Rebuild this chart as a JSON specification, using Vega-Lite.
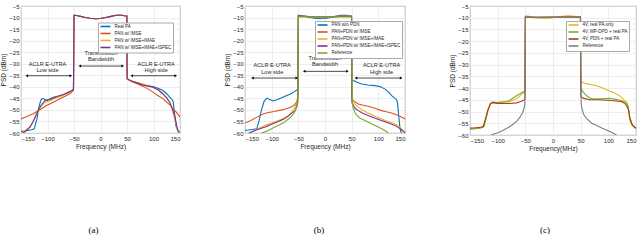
{
"$schema":"https://vega.github.io/schema/vega-lite/v6.json",
"padding":{"left":0,"top":2,"right":0,"bottom":0},
"bounds":"flush",
"spacing":65,
"resolve":{"scale":{"color":"independent","shape":"independent"}},
"config":{
 "view":{"stroke":"#9a9a9a","strokeWidth":0.8},
 "axis":{"labelFont":"Liberation Sans","titleFont":"Liberation Sans","labelFontSize":6,"titleFontSize":6.5,"titleFontWeight":"normal","labelColor":"#262626","titleColor":"#262626","gridColor":"#e3e3e3","gridWidth":0.6,"domain":false,"ticks":false,"labelPadding":2,"titlePadding":2},
 "legend":{"orient":"none","labelFont":"Liberation Sans","labelFontSize":4.5,"labelColor":"#262626","symbolType":"M-3,0H3","symbolSize":11,"symbolStrokeWidth":1.6,"symbolOffset":3.5,"labelOffset":6.5,"rowPadding":0,"padding":1.5,"fillColor":"white","strokeColor":"#aaaaaa","labelLimit":200},
 "title":{"font":"Liberation Serif","fontSize":9,"fontWeight":"normal","color":"#000000"},
 "text":{"font":"Liberation Sans","fontSize":5.6,"color":"#262626"}
},
"datasets":{
"a":[
{"s":"Real PA","f":-150,"v":-59.4},{"s":"Real PA","f":-140,"v":-59},{"s":"Real PA","f":-130,"v":-58.6},{"s":"Real PA","f":-125,"v":-58.2},{"s":"Real PA","f":-120,"v":-54},{"s":"Real PA","f":-117,"v":-49.6},{"s":"Real PA","f":-113,"v":-46},{"s":"Real PA","f":-110,"v":-45},{"s":"Real PA","f":-106,"v":-45.3},{"s":"Real PA","f":-102,"v":-46},{"s":"Real PA","f":-96,"v":-45.6},{"s":"Real PA","f":-89,"v":-45},{"s":"Real PA","f":-80,"v":-44.3},{"s":"Real PA","f":-70,"v":-43.5},{"s":"Real PA","f":-60,"v":-42.4},{"s":"Real PA","f":-51,"v":-41.2},
{"s":"Real PA","f":-50,"v":-9.0},{"s":"Real PA","f":-45,"v":-9.1},{"s":"Real PA","f":-40,"v":-9.4},{"s":"Real PA","f":-30,"v":-9.9},{"s":"Real PA","f":-20,"v":-10.3},{"s":"Real PA","f":-10,"v":-10.5},{"s":"Real PA","f":0,"v":-10.4},{"s":"Real PA","f":10,"v":-10},{"s":"Real PA","f":20,"v":-9.5},{"s":"Real PA","f":30,"v":-9},{"s":"Real PA","f":40,"v":-9},{"s":"Real PA","f":45,"v":-9.2},{"s":"Real PA","f":49.7,"v":-9.3},
{"s":"Real PA","f":50.3,"v":-36.5},{"s":"Real PA","f":55,"v":-37.2},{"s":"Real PA","f":61.5,"v":-37.7},{"s":"Real PA","f":70,"v":-38.4},{"s":"Real PA","f":80,"v":-39.2},{"s":"Real PA","f":90,"v":-39.6},{"s":"Real PA","f":99,"v":-39.9},{"s":"Real PA","f":110,"v":-40.7},{"s":"Real PA","f":118,"v":-41.6},{"s":"Real PA","f":125,"v":-43},{"s":"Real PA","f":130.6,"v":-44.5},{"s":"Real PA","f":135,"v":-45.5},{"s":"Real PA","f":137,"v":-46.2},{"s":"Real PA","f":139,"v":-50},{"s":"Real PA","f":142,"v":-56.8},{"s":"Real PA","f":146,"v":-59},{"s":"Real PA","f":150,"v":-59.7},
{"s":"PAN w/ IMSE","f":-150,"v":-53.9},{"s":"PAN w/ IMSE","f":-140,"v":-53},{"s":"PAN w/ IMSE","f":-127,"v":-51.7},{"s":"PAN w/ IMSE","f":-115,"v":-50},{"s":"PAN w/ IMSE","f":-102,"v":-48.1},{"s":"PAN w/ IMSE","f":-90,"v":-46.8},{"s":"PAN w/ IMSE","f":-76.5,"v":-45.2},{"s":"PAN w/ IMSE","f":-65,"v":-43.9},{"s":"PAN w/ IMSE","f":-58,"v":-43},{"s":"PAN w/ IMSE","f":-51,"v":-41.6},
{"s":"PAN w/ IMSE","f":-50,"v":-9.0},{"s":"PAN w/ IMSE","f":-45,"v":-9.1},{"s":"PAN w/ IMSE","f":-40,"v":-9.4},{"s":"PAN w/ IMSE","f":-30,"v":-9.9},{"s":"PAN w/ IMSE","f":-20,"v":-10.3},{"s":"PAN w/ IMSE","f":-10,"v":-10.5},{"s":"PAN w/ IMSE","f":0,"v":-10.4},{"s":"PAN w/ IMSE","f":10,"v":-10},{"s":"PAN w/ IMSE","f":20,"v":-9.5},{"s":"PAN w/ IMSE","f":30,"v":-9},{"s":"PAN w/ IMSE","f":40,"v":-9},{"s":"PAN w/ IMSE","f":45,"v":-9.2},{"s":"PAN w/ IMSE","f":49.7,"v":-9.3},
{"s":"PAN w/ IMSE","f":50.3,"v":-36.5},{"s":"PAN w/ IMSE","f":55,"v":-37.3},{"s":"PAN w/ IMSE","f":61.5,"v":-38},{"s":"PAN w/ IMSE","f":70,"v":-38.8},{"s":"PAN w/ IMSE","f":80,"v":-39.7},{"s":"PAN w/ IMSE","f":90,"v":-41},{"s":"PAN w/ IMSE","f":99,"v":-42.3},{"s":"PAN w/ IMSE","f":108,"v":-43.8},{"s":"PAN w/ IMSE","f":118,"v":-45.2},{"s":"PAN w/ IMSE","f":125,"v":-46.6},{"s":"PAN w/ IMSE","f":130.6,"v":-47.8},{"s":"PAN w/ IMSE","f":137,"v":-49.5},{"s":"PAN w/ IMSE","f":143,"v":-51},{"s":"PAN w/ IMSE","f":150,"v":-53.2},
{"s":"PAN w/ IMSE+IMAE","f":-148,"v":-60},{"s":"PAN w/ IMSE+IMAE","f":-143,"v":-59},{"s":"PAN w/ IMSE+IMAE","f":-133,"v":-57.3},{"s":"PAN w/ IMSE+IMAE","f":-125,"v":-54},{"s":"PAN w/ IMSE+IMAE","f":-120,"v":-51.5},{"s":"PAN w/ IMSE+IMAE","f":-113,"v":-48.5},{"s":"PAN w/ IMSE+IMAE","f":-105,"v":-46.7},{"s":"PAN w/ IMSE+IMAE","f":-95,"v":-46},{"s":"PAN w/ IMSE+IMAE","f":-85,"v":-45},{"s":"PAN w/ IMSE+IMAE","f":-70,"v":-43.6},{"s":"PAN w/ IMSE+IMAE","f":-60,"v":-42.5},{"s":"PAN w/ IMSE+IMAE","f":-51,"v":-41.4},
{"s":"PAN w/ IMSE+IMAE","f":-50,"v":-9.0},{"s":"PAN w/ IMSE+IMAE","f":-45,"v":-9.1},{"s":"PAN w/ IMSE+IMAE","f":-40,"v":-9.4},{"s":"PAN w/ IMSE+IMAE","f":-30,"v":-9.9},{"s":"PAN w/ IMSE+IMAE","f":-20,"v":-10.3},{"s":"PAN w/ IMSE+IMAE","f":-10,"v":-10.5},{"s":"PAN w/ IMSE+IMAE","f":0,"v":-10.4},{"s":"PAN w/ IMSE+IMAE","f":10,"v":-10},{"s":"PAN w/ IMSE+IMAE","f":20,"v":-9.5},{"s":"PAN w/ IMSE+IMAE","f":30,"v":-9},{"s":"PAN w/ IMSE+IMAE","f":40,"v":-9},{"s":"PAN w/ IMSE+IMAE","f":45,"v":-9.2},{"s":"PAN w/ IMSE+IMAE","f":49.7,"v":-9.3},
{"s":"PAN w/ IMSE+IMAE","f":50.3,"v":-36.5},{"s":"PAN w/ IMSE+IMAE","f":56,"v":-37.3},{"s":"PAN w/ IMSE+IMAE","f":62,"v":-37.8},{"s":"PAN w/ IMSE+IMAE","f":70,"v":-38.2},{"s":"PAN w/ IMSE+IMAE","f":80,"v":-38.8},{"s":"PAN w/ IMSE+IMAE","f":90,"v":-39.5},{"s":"PAN w/ IMSE+IMAE","f":100,"v":-40.3},{"s":"PAN w/ IMSE+IMAE","f":110,"v":-41.5},{"s":"PAN w/ IMSE+IMAE","f":118,"v":-43},{"s":"PAN w/ IMSE+IMAE","f":125,"v":-44.8},{"s":"PAN w/ IMSE+IMAE","f":131,"v":-47},{"s":"PAN w/ IMSE+IMAE","f":136,"v":-50.5},{"s":"PAN w/ IMSE+IMAE","f":140,"v":-54},{"s":"PAN w/ IMSE+IMAE","f":145,"v":-58.5},{"s":"PAN w/ IMSE+IMAE","f":148,"v":-60},
{"s":"PAN w/ IMSE+IMAE+ISPEC","f":-146,"v":-60},{"s":"PAN w/ IMSE+IMAE+ISPEC","f":-140,"v":-59},{"s":"PAN w/ IMSE+IMAE+ISPEC","f":-133,"v":-57.5},{"s":"PAN w/ IMSE+IMAE+ISPEC","f":-127,"v":-55},{"s":"PAN w/ IMSE+IMAE+ISPEC","f":-120.5,"v":-51.7},{"s":"PAN w/ IMSE+IMAE+ISPEC","f":-113,"v":-48.3},{"s":"PAN w/ IMSE+IMAE+ISPEC","f":-105,"v":-46},{"s":"PAN w/ IMSE+IMAE+ISPEC","f":-97,"v":-45.4},{"s":"PAN w/ IMSE+IMAE+ISPEC","f":-89,"v":-44.5},{"s":"PAN w/ IMSE+IMAE+ISPEC","f":-80,"v":-44},{"s":"PAN w/ IMSE+IMAE+ISPEC","f":-70,"v":-43.3},{"s":"PAN w/ IMSE+IMAE+ISPEC","f":-60,"v":-42.3},{"s":"PAN w/ IMSE+IMAE+ISPEC","f":-51,"v":-41.3},
{"s":"PAN w/ IMSE+IMAE+ISPEC","f":-50,"v":-9.0},{"s":"PAN w/ IMSE+IMAE+ISPEC","f":-45,"v":-9.1},{"s":"PAN w/ IMSE+IMAE+ISPEC","f":-40,"v":-9.4},{"s":"PAN w/ IMSE+IMAE+ISPEC","f":-30,"v":-9.9},{"s":"PAN w/ IMSE+IMAE+ISPEC","f":-20,"v":-10.3},{"s":"PAN w/ IMSE+IMAE+ISPEC","f":-10,"v":-10.5},{"s":"PAN w/ IMSE+IMAE+ISPEC","f":0,"v":-10.4},{"s":"PAN w/ IMSE+IMAE+ISPEC","f":10,"v":-10},{"s":"PAN w/ IMSE+IMAE+ISPEC","f":20,"v":-9.5},{"s":"PAN w/ IMSE+IMAE+ISPEC","f":30,"v":-9},{"s":"PAN w/ IMSE+IMAE+ISPEC","f":40,"v":-9},{"s":"PAN w/ IMSE+IMAE+ISPEC","f":45,"v":-9.2},{"s":"PAN w/ IMSE+IMAE+ISPEC","f":49.7,"v":-9.3},
{"s":"PAN w/ IMSE+IMAE+ISPEC","f":50.3,"v":-36.5},{"s":"PAN w/ IMSE+IMAE+ISPEC","f":56,"v":-37.3},{"s":"PAN w/ IMSE+IMAE+ISPEC","f":61.5,"v":-37.7},{"s":"PAN w/ IMSE+IMAE+ISPEC","f":70,"v":-38.3},{"s":"PAN w/ IMSE+IMAE+ISPEC","f":80,"v":-39.2},{"s":"PAN w/ IMSE+IMAE+ISPEC","f":90,"v":-39.7},{"s":"PAN w/ IMSE+IMAE+ISPEC","f":99,"v":-40.2},{"s":"PAN w/ IMSE+IMAE+ISPEC","f":110,"v":-41.5},{"s":"PAN w/ IMSE+IMAE+ISPEC","f":118,"v":-43.1},{"s":"PAN w/ IMSE+IMAE+ISPEC","f":125,"v":-44.8},{"s":"PAN w/ IMSE+IMAE+ISPEC","f":130.6,"v":-46.7},{"s":"PAN w/ IMSE+IMAE+ISPEC","f":135,"v":-49},{"s":"PAN w/ IMSE+IMAE+ISPEC","f":140,"v":-52.5},{"s":"PAN w/ IMSE+IMAE+ISPEC","f":144,"v":-57},{"s":"PAN w/ IMSE+IMAE+ISPEC","f":147,"v":-59.7}
],
"b":[
{"s":"PAN w/o PDN","f":-150,"v":-58.9},{"s":"PAN w/o PDN","f":-140,"v":-58.6},{"s":"PAN w/o PDN","f":-128,"v":-58.2},{"s":"PAN w/o PDN","f":-124,"v":-55},{"s":"PAN w/o PDN","f":-119,"v":-50},{"s":"PAN w/o PDN","f":-114,"v":-46.2},{"s":"PAN w/o PDN","f":-109,"v":-44.9},{"s":"PAN w/o PDN","f":-104,"v":-45.5},{"s":"PAN w/o PDN","f":-97,"v":-46.1},{"s":"PAN w/o PDN","f":-89,"v":-45.5},{"s":"PAN w/o PDN","f":-81,"v":-44.7},{"s":"PAN w/o PDN","f":-74,"v":-44},{"s":"PAN w/o PDN","f":-66,"v":-43.2},{"s":"PAN w/o PDN","f":-58,"v":-42.2},{"s":"PAN w/o PDN","f":-51,"v":-41},
{"s":"PAN w/o PDN","f":-50,"v":-9.0},{"s":"PAN w/o PDN","f":-45,"v":-9.1},{"s":"PAN w/o PDN","f":-40,"v":-9.4},{"s":"PAN w/o PDN","f":-30,"v":-9.9},{"s":"PAN w/o PDN","f":-20,"v":-10.3},{"s":"PAN w/o PDN","f":-10,"v":-10.5},{"s":"PAN w/o PDN","f":0,"v":-10.4},{"s":"PAN w/o PDN","f":10,"v":-10},{"s":"PAN w/o PDN","f":20,"v":-9.5},{"s":"PAN w/o PDN","f":30,"v":-9},{"s":"PAN w/o PDN","f":40,"v":-9},{"s":"PAN w/o PDN","f":45,"v":-9.2},{"s":"PAN w/o PDN","f":49.7,"v":-9.3},
{"s":"PAN w/o PDN","f":50.3,"v":-36.8},{"s":"PAN w/o PDN","f":53,"v":-37.3},{"s":"PAN w/o PDN","f":60,"v":-38},{"s":"PAN w/o PDN","f":69,"v":-38.8},{"s":"PAN w/o PDN","f":80,"v":-39.2},{"s":"PAN w/o PDN","f":94,"v":-39.5},{"s":"PAN w/o PDN","f":104,"v":-40},{"s":"PAN w/o PDN","f":112.5,"v":-41},{"s":"PAN w/o PDN","f":119,"v":-42.2},{"s":"PAN w/o PDN","f":125,"v":-43.8},{"s":"PAN w/o PDN","f":130,"v":-44.8},{"s":"PAN w/o PDN","f":134,"v":-45.5},{"s":"PAN w/o PDN","f":136,"v":-47},{"s":"PAN w/o PDN","f":138,"v":-52},{"s":"PAN w/o PDN","f":140.6,"v":-58},{"s":"PAN w/o PDN","f":143,"v":-60},
{"s":"PAN+PDN w/ IMSE","f":-150,"v":-55.7},{"s":"PAN+PDN w/ IMSE","f":-140,"v":-54.7},{"s":"PAN+PDN w/ IMSE","f":-125,"v":-52.8},{"s":"PAN+PDN w/ IMSE","f":-115,"v":-51.7},{"s":"PAN+PDN w/ IMSE","f":-106,"v":-51.1},{"s":"PAN+PDN w/ IMSE","f":-95,"v":-50.7},{"s":"PAN+PDN w/ IMSE","f":-81,"v":-50},{"s":"PAN+PDN w/ IMSE","f":-70,"v":-49.3},{"s":"PAN+PDN w/ IMSE","f":-62.5,"v":-48.6},{"s":"PAN+PDN w/ IMSE","f":-57,"v":-47.8},{"s":"PAN+PDN w/ IMSE","f":-53,"v":-46.5},{"s":"PAN+PDN w/ IMSE","f":-51,"v":-44.5},
{"s":"PAN+PDN w/ IMSE","f":-50,"v":-9.3},{"s":"PAN+PDN w/ IMSE","f":-30,"v":-9.6},{"s":"PAN+PDN w/ IMSE","f":0,"v":-9.7},{"s":"PAN+PDN w/ IMSE","f":30,"v":-9.5},{"s":"PAN+PDN w/ IMSE","f":49.7,"v":-9.5},
{"s":"PAN+PDN w/ IMSE","f":50.5,"v":-45.2},{"s":"PAN+PDN w/ IMSE","f":55,"v":-46.3},{"s":"PAN+PDN w/ IMSE","f":62.5,"v":-47.4},{"s":"PAN+PDN w/ IMSE","f":70,"v":-47.9},{"s":"PAN+PDN w/ IMSE","f":81,"v":-48.4},{"s":"PAN+PDN w/ IMSE","f":95,"v":-49.4},{"s":"PAN+PDN w/ IMSE","f":106,"v":-50.3},{"s":"PAN+PDN w/ IMSE","f":115,"v":-50.8},{"s":"PAN+PDN w/ IMSE","f":125,"v":-51.3},{"s":"PAN+PDN w/ IMSE","f":137.5,"v":-52.4},{"s":"PAN+PDN w/ IMSE","f":145,"v":-53.3},{"s":"PAN+PDN w/ IMSE","f":150,"v":-53.9},
{"s":"PAN+PDN w/ IMSE+IMAE","f":-140,"v":-60},{"s":"PAN+PDN w/ IMSE+IMAE","f":-137,"v":-59.6},{"s":"PAN+PDN w/ IMSE+IMAE","f":-125,"v":-58},{"s":"PAN+PDN w/ IMSE+IMAE","f":-112,"v":-56.7},{"s":"PAN+PDN w/ IMSE+IMAE","f":-100,"v":-55.7},{"s":"PAN+PDN w/ IMSE+IMAE","f":-87.5,"v":-54.6},{"s":"PAN+PDN w/ IMSE+IMAE","f":-78,"v":-53.7},{"s":"PAN+PDN w/ IMSE+IMAE","f":-69,"v":-52.5},{"s":"PAN+PDN w/ IMSE+IMAE","f":-62,"v":-50.8},{"s":"PAN+PDN w/ IMSE+IMAE","f":-56,"v":-48.8},{"s":"PAN+PDN w/ IMSE+IMAE","f":-52,"v":-46.5},{"s":"PAN+PDN w/ IMSE+IMAE","f":-51,"v":-45},
{"s":"PAN+PDN w/ IMSE+IMAE","f":-50,"v":-9.3},{"s":"PAN+PDN w/ IMSE+IMAE","f":-30,"v":-9.6},{"s":"PAN+PDN w/ IMSE+IMAE","f":0,"v":-9.7},{"s":"PAN+PDN w/ IMSE+IMAE","f":30,"v":-9.5},{"s":"PAN+PDN w/ IMSE+IMAE","f":49.7,"v":-9.5},
{"s":"PAN+PDN w/ IMSE+IMAE","f":50.5,"v":-45.2},{"s":"PAN+PDN w/ IMSE+IMAE","f":54,"v":-46.8},{"s":"PAN+PDN w/ IMSE+IMAE","f":58,"v":-47.9},{"s":"PAN+PDN w/ IMSE+IMAE","f":62.5,"v":-48.8},{"s":"PAN+PDN w/ IMSE+IMAE","f":70,"v":-50},{"s":"PAN+PDN w/ IMSE+IMAE","f":81,"v":-51.3},{"s":"PAN+PDN w/ IMSE+IMAE","f":93,"v":-52.6},{"s":"PAN+PDN w/ IMSE+IMAE","f":106,"v":-53.9},{"s":"PAN+PDN w/ IMSE+IMAE","f":118,"v":-55},{"s":"PAN+PDN w/ IMSE+IMAE","f":131,"v":-56},{"s":"PAN+PDN w/ IMSE+IMAE","f":140,"v":-57.5},{"s":"PAN+PDN w/ IMSE+IMAE","f":150,"v":-59.6},
{"s":"PAN+PDN w/ IMSE+IMAE+ISPEC","f":-143,"v":-60},{"s":"PAN+PDN w/ IMSE+IMAE+ISPEC","f":-137,"v":-59.5},{"s":"PAN+PDN w/ IMSE+IMAE+ISPEC","f":-125,"v":-58.4},{"s":"PAN+PDN w/ IMSE+IMAE+ISPEC","f":-112,"v":-57.4},{"s":"PAN+PDN w/ IMSE+IMAE+ISPEC","f":-100,"v":-56.2},{"s":"PAN+PDN w/ IMSE+IMAE+ISPEC","f":-87.5,"v":-55},{"s":"PAN+PDN w/ IMSE+IMAE+ISPEC","f":-78,"v":-54},{"s":"PAN+PDN w/ IMSE+IMAE+ISPEC","f":-69,"v":-52.7},{"s":"PAN+PDN w/ IMSE+IMAE+ISPEC","f":-62,"v":-51.3},{"s":"PAN+PDN w/ IMSE+IMAE+ISPEC","f":-56,"v":-50.3},{"s":"PAN+PDN w/ IMSE+IMAE+ISPEC","f":-53,"v":-48.5},{"s":"PAN+PDN w/ IMSE+IMAE+ISPEC","f":-51,"v":-46},
{"s":"PAN+PDN w/ IMSE+IMAE+ISPEC","f":-50,"v":-9.3},{"s":"PAN+PDN w/ IMSE+IMAE+ISPEC","f":-30,"v":-9.6},{"s":"PAN+PDN w/ IMSE+IMAE+ISPEC","f":0,"v":-9.7},{"s":"PAN+PDN w/ IMSE+IMAE+ISPEC","f":30,"v":-9.5},{"s":"PAN+PDN w/ IMSE+IMAE+ISPEC","f":49.7,"v":-9.5},
{"s":"PAN+PDN w/ IMSE+IMAE+ISPEC","f":50.5,"v":-46.7},{"s":"PAN+PDN w/ IMSE+IMAE+ISPEC","f":54,"v":-48.5},{"s":"PAN+PDN w/ IMSE+IMAE+ISPEC","f":58,"v":-49.6},{"s":"PAN+PDN w/ IMSE+IMAE+ISPEC","f":62.5,"v":-50.3},{"s":"PAN+PDN w/ IMSE+IMAE+ISPEC","f":70,"v":-51.3},{"s":"PAN+PDN w/ IMSE+IMAE+ISPEC","f":81,"v":-52.4},{"s":"PAN+PDN w/ IMSE+IMAE+ISPEC","f":93,"v":-53.5},{"s":"PAN+PDN w/ IMSE+IMAE+ISPEC","f":106,"v":-54.6},{"s":"PAN+PDN w/ IMSE+IMAE+ISPEC","f":118,"v":-55.6},{"s":"PAN+PDN w/ IMSE+IMAE+ISPEC","f":131,"v":-56.7},{"s":"PAN+PDN w/ IMSE+IMAE+ISPEC","f":140,"v":-58},{"s":"PAN+PDN w/ IMSE+IMAE+ISPEC","f":145,"v":-59},{"s":"PAN+PDN w/ IMSE+IMAE+ISPEC","f":150,"v":-60},
{"s":"Reference","f":-119,"v":-60},{"s":"Reference","f":-110,"v":-59.3},{"s":"Reference","f":-100,"v":-58.2},{"s":"Reference","f":-94,"v":-57.4},{"s":"Reference","f":-85,"v":-56.4},{"s":"Reference","f":-78,"v":-55.6},{"s":"Reference","f":-72,"v":-54.6},{"s":"Reference","f":-65,"v":-53.3},{"s":"Reference","f":-59,"v":-51.7},{"s":"Reference","f":-55,"v":-50},{"s":"Reference","f":-52,"v":-48},{"s":"Reference","f":-51,"v":-46.7},{"s":"Reference","f":-50.5,"v":-30},{"s":"Reference","f":-50,"v":-10},{"s":"Reference","f":-49.5,"v":-9.7},{"s":"Reference","f":0,"v":-9.7},{"s":"Reference","f":49.5,"v":-9.7},{"s":"Reference","f":50,"v":-10},{"s":"Reference","f":50.5,"v":-30},{"s":"Reference","f":51,"v":-46.7},{"s":"Reference","f":53,"v":-49.3},{"s":"Reference","f":56,"v":-51},{"s":"Reference","f":59,"v":-52.2},{"s":"Reference","f":65,"v":-53.5},{"s":"Reference","f":75,"v":-54.6},{"s":"Reference","f":87,"v":-56},{"s":"Reference","f":100,"v":-57.4},{"s":"Reference","f":110,"v":-58.6},{"s":"Reference","f":119,"v":-60}
],
"c":[
{"s":"4V, real PA only","f":-150,"v":-57.2},{"s":"4V, real PA only","f":-140,"v":-57},{"s":"4V, real PA only","f":-130,"v":-56.6},{"s":"4V, real PA only","f":-125,"v":-56.2},{"s":"4V, real PA only","f":-121,"v":-53},{"s":"4V, real PA only","f":-117,"v":-49},{"s":"4V, real PA only","f":-112,"v":-46.5},{"s":"4V, real PA only","f":-109,"v":-46},{"s":"4V, real PA only","f":-104,"v":-46.3},{"s":"4V, real PA only","f":-100,"v":-46.2},{"s":"4V, real PA only","f":-92,"v":-46},{"s":"4V, real PA only","f":-85,"v":-45.8},{"s":"4V, real PA only","f":-80,"v":-46},{"s":"4V, real PA only","f":-73,"v":-45.2},{"s":"4V, real PA only","f":-66,"v":-44.4},{"s":"4V, real PA only","f":-58,"v":-43},{"s":"4V, real PA only","f":-51,"v":-41.6},
{"s":"4V, real PA only","f":-50,"v":-9.3},{"s":"4V, real PA only","f":-45,"v":-9.3},{"s":"4V, real PA only","f":-35,"v":-10},{"s":"4V, real PA only","f":-20,"v":-10.2},{"s":"4V, real PA only","f":-5,"v":-10.2},{"s":"4V, real PA only","f":5,"v":-9.8},{"s":"4V, real PA only","f":20,"v":-9.3},{"s":"4V, real PA only","f":30,"v":-9.2},{"s":"4V, real PA only","f":40,"v":-9.4},{"s":"4V, real PA only","f":49.5,"v":-9.5},
{"s":"4V, real PA only","f":50.3,"v":-37.3},{"s":"4V, real PA only","f":55,"v":-37.7},{"s":"4V, real PA only","f":61,"v":-38.2},{"s":"4V, real PA only","f":70,"v":-38.6},{"s":"4V, real PA only","f":79,"v":-39},{"s":"4V, real PA only","f":90,"v":-40},{"s":"4V, real PA only","f":100,"v":-41},{"s":"4V, real PA only","f":110,"v":-42},{"s":"4V, real PA only","f":121,"v":-43.3},{"s":"4V, real PA only","f":128,"v":-45},{"s":"4V, real PA only","f":133,"v":-46},{"s":"4V, real PA only","f":136,"v":-48},{"s":"4V, real PA only","f":139,"v":-54},{"s":"4V, real PA only","f":143,"v":-56},{"s":"4V, real PA only","f":150,"v":-57},
{"s":"4V, MP-DPD + real PA","f":-150,"v":-57.5},{"s":"4V, MP-DPD + real PA","f":-140,"v":-57.3},{"s":"4V, MP-DPD + real PA","f":-130,"v":-57},{"s":"4V, MP-DPD + real PA","f":-125,"v":-56.5},{"s":"4V, MP-DPD + real PA","f":-121,"v":-53},{"s":"4V, MP-DPD + real PA","f":-117,"v":-49},{"s":"4V, MP-DPD + real PA","f":-112,"v":-46.5},{"s":"4V, MP-DPD + real PA","f":-109,"v":-46},{"s":"4V, MP-DPD + real PA","f":-100,"v":-46.2},{"s":"4V, MP-DPD + real PA","f":-90,"v":-46},{"s":"4V, MP-DPD + real PA","f":-80,"v":-45.4},{"s":"4V, MP-DPD + real PA","f":-73,"v":-44.3},{"s":"4V, MP-DPD + real PA","f":-66,"v":-43.3},{"s":"4V, MP-DPD + real PA","f":-58,"v":-42.2},{"s":"4V, MP-DPD + real PA","f":-51,"v":-41.2},
{"s":"4V, MP-DPD + real PA","f":-50,"v":-9.6},{"s":"4V, MP-DPD + real PA","f":-25,"v":-9.8},{"s":"4V, MP-DPD + real PA","f":0,"v":-9.7},{"s":"4V, MP-DPD + real PA","f":25,"v":-9.6},{"s":"4V, MP-DPD + real PA","f":49.5,"v":-9.7},
{"s":"4V, MP-DPD + real PA","f":50.3,"v":-40},{"s":"4V, MP-DPD + real PA","f":55,"v":-41.8},{"s":"4V, MP-DPD + real PA","f":61,"v":-43.3},{"s":"4V, MP-DPD + real PA","f":67,"v":-44.2},{"s":"4V, MP-DPD + real PA","f":73,"v":-44.7},{"s":"4V, MP-DPD + real PA","f":85,"v":-44.6},{"s":"4V, MP-DPD + real PA","f":103,"v":-44.4},{"s":"4V, MP-DPD + real PA","f":115,"v":-44.9},{"s":"4V, MP-DPD + real PA","f":124,"v":-45.4},{"s":"4V, MP-DPD + real PA","f":130,"v":-46},{"s":"4V, MP-DPD + real PA","f":133,"v":-46.4},{"s":"4V, MP-DPD + real PA","f":136,"v":-48},{"s":"4V, MP-DPD + real PA","f":139,"v":-52.5},{"s":"4V, MP-DPD + real PA","f":143,"v":-55.5},{"s":"4V, MP-DPD + real PA","f":148,"v":-57},{"s":"4V, MP-DPD + real PA","f":150,"v":-57.2},
{"s":"4V, PDN + real PA","f":-150,"v":-57},{"s":"4V, PDN + real PA","f":-140,"v":-56.9},{"s":"4V, PDN + real PA","f":-130,"v":-56.7},{"s":"4V, PDN + real PA","f":-126,"v":-56.3},{"s":"4V, PDN + real PA","f":-122,"v":-53},{"s":"4V, PDN + real PA","f":-118,"v":-49.5},{"s":"4V, PDN + real PA","f":-113,"v":-46.5},{"s":"4V, PDN + real PA","f":-109,"v":-46.2},{"s":"4V, PDN + real PA","f":-100,"v":-46.5},{"s":"4V, PDN + real PA","f":-90,"v":-46.6},{"s":"4V, PDN + real PA","f":-80,"v":-46.6},{"s":"4V, PDN + real PA","f":-66,"v":-46.3},{"s":"4V, PDN + real PA","f":-58,"v":-45.7},{"s":"4V, PDN + real PA","f":-52,"v":-45.1},{"s":"4V, PDN + real PA","f":-50.5,"v":-44.5},
{"s":"4V, PDN + real PA","f":-50,"v":-9.7},{"s":"4V, PDN + real PA","f":-25,"v":-9.8},{"s":"4V, PDN + real PA","f":0,"v":-9.7},{"s":"4V, PDN + real PA","f":25,"v":-9.7},{"s":"4V, PDN + real PA","f":49.5,"v":-9.7},
{"s":"4V, PDN + real PA","f":50.3,"v":-43.6},{"s":"4V, PDN + real PA","f":55,"v":-44.4},{"s":"4V, PDN + real PA","f":67,"v":-45},{"s":"4V, PDN + real PA","f":80,"v":-45},{"s":"4V, PDN + real PA","f":103,"v":-45.3},{"s":"4V, PDN + real PA","f":115,"v":-45.5},{"s":"4V, PDN + real PA","f":124,"v":-45.8},{"s":"4V, PDN + real PA","f":130,"v":-46.6},{"s":"4V, PDN + real PA","f":133,"v":-47.5},{"s":"4V, PDN + real PA","f":136,"v":-49},{"s":"4V, PDN + real PA","f":139,"v":-53},{"s":"4V, PDN + real PA","f":143,"v":-55.5},{"s":"4V, PDN + real PA","f":148,"v":-56.8},{"s":"4V, PDN + real PA","f":150,"v":-57},
{"s":"Reference","f":-112,"v":-60},{"s":"Reference","f":-100,"v":-59},{"s":"Reference","f":-90,"v":-58},{"s":"Reference","f":-80,"v":-56.7},{"s":"Reference","f":-72,"v":-55.4},{"s":"Reference","f":-65,"v":-54},{"s":"Reference","f":-60,"v":-52.5},{"s":"Reference","f":-55,"v":-50.5},{"s":"Reference","f":-52,"v":-48.3},{"s":"Reference","f":-51,"v":-46.7},{"s":"Reference","f":-50.3,"v":-30},{"s":"Reference","f":-49.8,"v":-10},{"s":"Reference","f":-49.5,"v":-9.8},{"s":"Reference","f":0,"v":-9.8},{"s":"Reference","f":49.5,"v":-9.8},{"s":"Reference","f":49.8,"v":-10},{"s":"Reference","f":50.3,"v":-30},{"s":"Reference","f":51,"v":-47},{"s":"Reference","f":53,"v":-49.4},{"s":"Reference","f":56,"v":-51.5},{"s":"Reference","f":61,"v":-53},{"s":"Reference","f":70,"v":-55},{"s":"Reference","f":79,"v":-56},{"s":"Reference","f":90,"v":-57.2},{"s":"Reference","f":103,"v":-58.5},{"s":"Reference","f":115,"v":-60}
],
"aT":[{"f":-100,"v":-30,"t":"ACLR E-UTRA"},{"f":-100,"v":-32.7,"t":"Low side"},{"f":1,"v":-25.5,"t":"Transmission"},{"f":1,"v":-28.1,"t":"Bandwidth"},{"f":105,"v":-30,"t":"ACLR E-UTRA"},{"f":105,"v":-32.7,"t":"High side"}],
"aR":[{"f":-139,"f2":-56,"v":-35.2},{"f":-39,"f2":42,"v":-31},{"f":59,"f2":142,"v":-35.2}],
"aH":[{"f":-139,"v":-35.2,"d":"L"},{"f":-56,"v":-35.2,"d":"R"},{"f":-39,"v":-31,"d":"L"},{"f":42,"v":-31,"d":"R"},{"f":59,"v":-35.2,"d":"L"},{"f":142,"v":-35.2,"d":"R"}],
"bT":[{"f":-99,"v":-30.4,"t":"ACLR E-UTRA"},{"f":-99,"v":-33.7,"t":"Low side"},{"f":0,"v":-27.5,"t":"Transmission"},{"f":0,"v":-30.3,"t":"Bandwidth"},{"f":106,"v":-30.4,"t":"ACLR E-UTRA"},{"f":106,"v":-33.7,"t":"High side"}],
"bR":[{"f":-136,"f2":-53,"v":-36.2},{"f":-39,"f2":42,"v":-33.3},{"f":58,"f2":142.7,"v":-36.2}],
"bH":[{"f":-136,"v":-36.2,"d":"L"},{"f":-53,"v":-36.2,"d":"R"},{"f":-39,"v":-33.3,"d":"L"},{"f":42,"v":-33.3,"d":"R"},{"f":58,"v":-36.2,"d":"L"},{"f":142.7,"v":-36.2,"d":"R"}]
},
"hconcat":[
{"width":159,"height":127,
 "title":{"text":"(a)","orient":"bottom","offset":76,"dx":-7},
 "encoding":{
  "x":{"field":"f","type":"quantitative","scale":{"domain":[-150,150],"nice":false},"axis":{"title":"Frequency (MHz)","values":[-150,-100,-50,0,50,100,150]}},
  "y":{"field":"v","type":"quantitative","scale":{"domain":[-60,-5],"nice":false},"axis":{"title":"PSD (dBm)","values":[-60,-55,-50,-45,-40,-35,-30,-25,-20,-15,-10,-5]}}
 },
 "layer":[
  {"data":{"name":"a"},"mark":{"type":"line","strokeWidth":1.1,"clip":true},
   "encoding":{"color":{"field":"s","type":"nominal","scale":{"domain":["Real PA","PAN w/ IMSE","PAN w/ IMSE+IMAE","PAN w/ IMSE+IMAE+ISPEC"],"range":["#0072BD","#D95319","#EDB120","#7E2F8E"]},"legend":{"title":null,"legendX":77,"legendY":16.5}}}},
  {"data":{"name":"aR"},"mark":{"type":"rule","color":"#000000","strokeWidth":0.7},"encoding":{"x2":{"field":"f2"}}},
  {"data":{"name":"aH"},"mark":{"type":"point","filled":true,"color":"#000000","size":9,"opacity":1},"encoding":{"shape":{"field":"d","type":"nominal","scale":{"domain":["L","R"],"range":["triangle-left","triangle-right"]},"legend":null}}},
  {"data":{"name":"aT"},"mark":{"type":"text"},"encoding":{"text":{"field":"t"}}}
 ]},
{"width":160,"height":127,
 "title":{"text":"(b)","orient":"bottom","offset":76,"dx":-6},
 "encoding":{
  "x":{"field":"f","type":"quantitative","scale":{"domain":[-150,150],"nice":false},"axis":{"title":"Frequency (MHz)","values":[-150,-100,-50,0,50,100,150]}},
  "y":{"field":"v","type":"quantitative","scale":{"domain":[-60,-5],"nice":false},"axis":{"title":"PSD (dBm)","values":[-60,-55,-50,-45,-40,-35,-30,-25,-20,-15,-10,-5]}}
 },
 "layer":[
  {"data":{"name":"b"},"mark":{"type":"line","strokeWidth":1.1,"clip":true},
   "encoding":{"color":{"field":"s","type":"nominal","scale":{"domain":["PAN w/o PDN","PAN+PDN w/ IMSE","PAN+PDN w/ IMSE+IMAE","PAN+PDN w/ IMSE+IMAE+ISPEC","Reference"],"range":["#0072BD","#D95319","#EDB120","#7E2F8E","#77AC30"]},"legend":{"title":null,"legendX":70,"legendY":15}}}},
  {"data":{"name":"bR"},"mark":{"type":"rule","color":"#000000","strokeWidth":0.7},"encoding":{"x2":{"field":"f2"}}},
  {"data":{"name":"bH"},"mark":{"type":"point","filled":true,"color":"#000000","size":9,"opacity":1},"encoding":{"shape":{"field":"d","type":"nominal","scale":{"domain":["L","R"],"range":["triangle-left","triangle-right"]},"legend":null}}},
  {"data":{"name":"bT"},"mark":{"type":"text"},"encoding":{"text":{"field":"t"}}}
 ]},
{"width":166,"height":129,
 "title":{"text":"(c)","orient":"bottom","offset":74,"dx":-8},
 "encoding":{
  "x":{"field":"f","type":"quantitative","scale":{"domain":[-150,150],"nice":false},"axis":{"title":"Frequency(MHz)","values":[-150,-100,-50,0,50,100,150]}},
  "y":{"field":"v","type":"quantitative","scale":{"domain":[-60,-5],"nice":false},"axis":{"title":"PSD (dBm)","values":[-60,-55,-50,-45,-40,-35,-30,-25,-20,-15,-10,-5]}}
 },
 "layer":[
  {"data":{"name":"c"},"mark":{"type":"line","strokeWidth":1.1,"clip":true},
   "encoding":{"color":{"field":"s","type":"nominal","scale":{"domain":["4V, real PA only","4V, MP-DPD + real PA","4V, PDN + real PA","Reference"],"range":["#EDB120","#77AC30","#A4401C","#7F7F7F"]},"legend":{"title":null,"legendX":96,"legendY":15}}}}
 ]}
]
}
